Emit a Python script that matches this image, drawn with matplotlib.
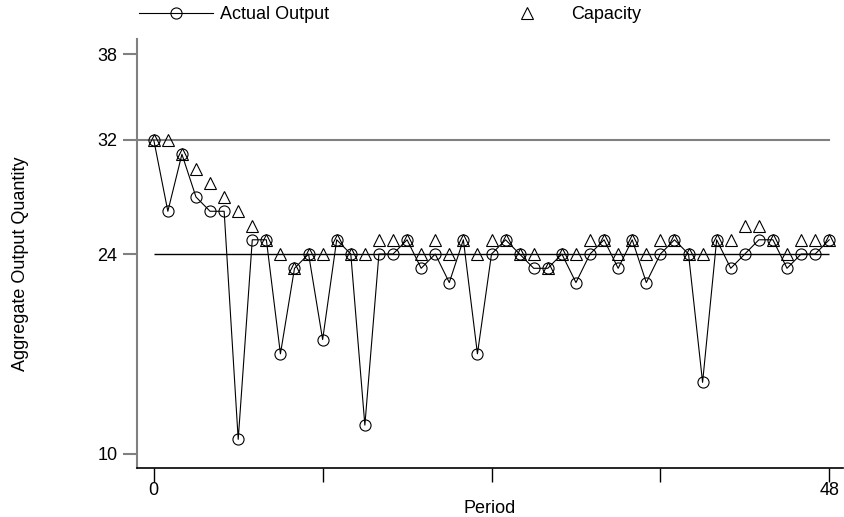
import matplotlib
matplotlib.use('Agg')
import matplotlib.pyplot as plt
from matplotlib.lines import Line2D

plt.rcParams['font.family'] = ['Liberation Sans', 'DejaVu Sans']

# data
periods = list(range(49))
actual_output = [32, 27, 31, 28, 27, 27, 11, 25, 25, 17,
                 23, 24, 18, 25, 24, 12, 24, 24, 25, 23,
                 24, 22, 25, 17, 24, 25, 24, 23, 23, 24,
                 22, 24, 25, 23, 25, 22, 24, 25, 24, 15,
                 25, 23, 24, 25, 25, 23, 24, 24, 25]
capacity = [32, 32, 31, 30, 29, 28, 27, 26, 25, 24,
            23, 24, 24, 25, 24, 24, 25, 25, 25, 24,
            25, 24, 25, 24, 25, 25, 24, 24, 23, 24,
            24, 25, 25, 24, 25, 24, 25, 25, 24, 24,
            25, 25, 26, 26, 25, 24, 25, 25, 25]
upper_ref = 32
target_ref = 24
y_ticks = [10, 24, 32, 38]
x_ticks = [0, 12, 24, 36, 48]
x_labels = {0: '0', 48: '48'}

fs = 13

fig = plt.figure(figsize=(8.45, 5.17), dpi=100)
ax = fig.add_axes([0.162, 0.095, 0.836, 0.83])

# reference lines
ax.axhline(upper_ref, color='#808080', lw=1.5, xmax=(48 + 1.2) / (49 + 1.2), zorder=1)
ax.hlines(target_ref, 0, 48, color='black', lw=1.0, zorder=1)

ax.plot(periods, actual_output, color='black', lw=0.8, marker='o', ms=8,
        mfc='none', mec='black', mew=0.8, zorder=3)
ax.plot(periods, capacity, ls='none', marker='^', ms=8,
        mfc='none', mec='black', mew=0.8, zorder=2)

ax.set_xlim(-1.2, 49)
ax.set_ylim(9, 39.1)
ax.set_yticks(y_ticks)
ax.set_xticks(x_ticks)
ax.set_xticklabels([x_labels.get(t, '') for t in x_ticks])
ax.tick_params(axis='both', labelsize=fs, length=10, width=1, direction='out')
ax.tick_params(axis='y', colors='#808080', labelcolor='black', width=1.5, pad=4)
ax.tick_params(axis='x', pad=0)

ax.spines['top'].set_visible(False)
ax.spines['right'].set_visible(False)
ax.spines['left'].set_color('#808080')
ax.spines['left'].set_linewidth(1.5)
ax.spines['bottom'].set_linewidth(1.2)

ax.set_xlabel('Period', fontsize=fs, labelpad=1)
fig.text(0.024, 0.49, 'Aggregate Output Quantity', rotation=90, fontsize=fs,
         ha='center', va='center')

# legend laid out above the plot
handles = [Line2D([], [], color='black', lw=0.8, marker='o', ms=8,
                  mfc='none', mec='black', mew=0.8),
           Line2D([], [], ls='none', marker='^', ms=8,
                  mfc='none', mec='black', mew=0.8)]
fig.legend(handles, ['Actual Output', 'Capacity'], loc='upper left',
           bbox_to_anchor=(0.1495, 1.012), ncol=2, frameon=False, fontsize=fs,
           handlelength=4.1, handletextpad=0.4, columnspacing=8.9,
           borderpad=0.2)

fig.savefig('out.png', dpi=100)
